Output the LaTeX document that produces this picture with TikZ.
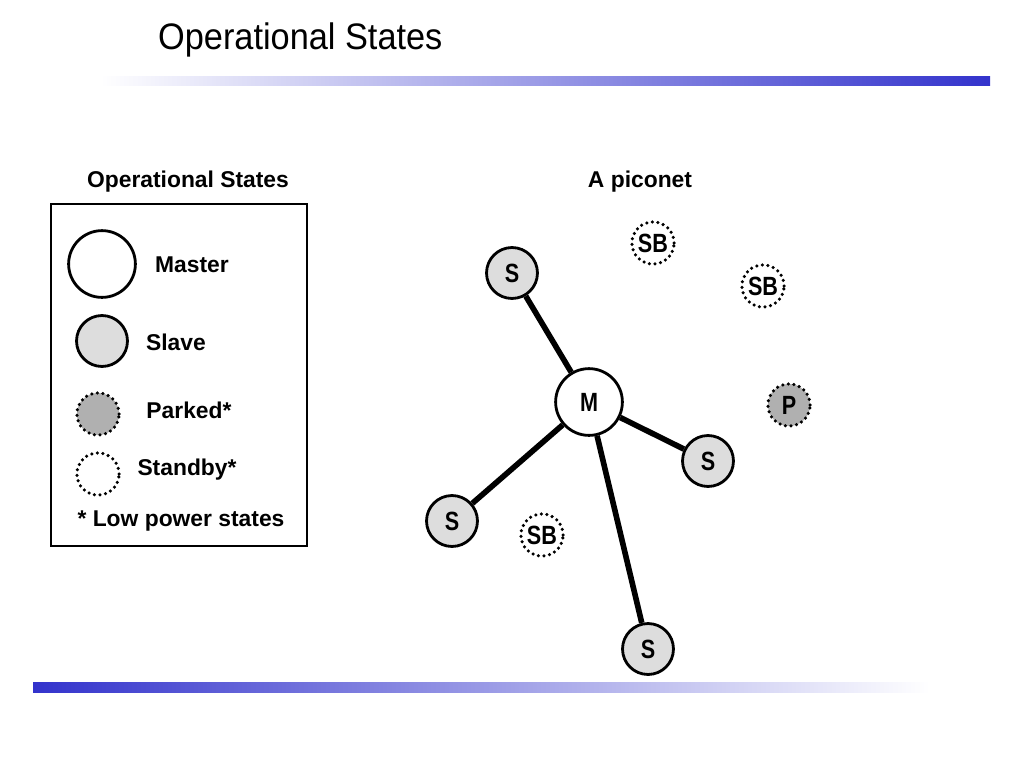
\documentclass[tikz,border=0pt]{standalone}
\usepackage{fontspec}
\setmainfont{Liberation Sans}
\usetikzlibrary{positioning}
\definecolor{barblue}{RGB}{51,51,204}
\definecolor{slavegray}{RGB}{221,221,221}
\definecolor{parkgray}{RGB}{176,176,176}
\tikzset{
  unit/.style={circle, draw, line width=1.6pt, inner sep=0pt, font=\bfseries\fontsize{15}{15}\selectfont},
  master/.style={unit, fill=white, minimum size=38pt},
  slave/.style={unit, fill=slavegray, minimum size=29pt},
  lowpower/.style={unit, line width=2pt, line cap=round, dash pattern=on 0pt off 3.2pt, minimum size=24pt},
  parked/.style={lowpower, fill=parkgray},
  standby/.style={lowpower, fill=white},
  label/.style={font=\bfseries\fontsize{13}{13}\selectfont},
  link/.style={line width=3.2pt}
}
\newcommand{\narrow}[1]{\scalebox{0.82}[1]{#1}}
\begin{document}
\begin{tikzpicture}[x=0.02cm, y=-0.02cm]
  \useasboundingbox (0, 0) rectangle (1024, 768);
  % title and bars
  \node[anchor=west, font=\fontsize{21}{21}\selectfont] (title) at (152, 40) {\scalebox{0.93}[1]{Operational States}};
  \shade[left color=white, right color=barblue] (100, 76) rectangle (990, 85);
  \shade[left color=barblue, right color=white] (33, 682) rectangle (930, 692);
  % legend
  \node[label] (legtitle) at (188, 182) {Operational States};
  \draw[line width=1.6pt] (51, 204) rectangle (307, 546);
  \node[master] (lm) at (102, 264) {};
  \node[label] at (192, 265) {Master};
  \node[slave] (ls) at (102, 341) {};
  \node[label] at (176, 342) {Slave};
  \node[parked] (lp) at (98, 414) {};
  \node[label] at (189, 410) {Parked*};
  \node[standby] (lsb) at (98, 474) {};
  \node[label] at (187, 470) {Standby*};
  \node[label] at (181, 521) {* Low power states};
  % piconet
  \node[label] (pictitle) at (640, 182) {A piconet};
  \node[master] (m) at (589, 402) {\narrow{M}};
  \node[slave] (s1) at (512, 273) {\narrow{S}};
  \node[slave] (s2) at (708, 461) {\narrow{S}};
  \node[slave] (s3) at (452, 521) {\narrow{S}};
  \node[slave] (s4) at (648, 649) {\narrow{S}};
  \node[standby] (sb1) at (653, 243) {\narrow{SB}};
  \node[standby] (sb2) at (763, 286) {\narrow{SB}};
  \node[standby] (sb3) at (542, 535) {\narrow{SB}};
  \node[parked] (p) at (789, 405) {\narrow{P}};
  \foreach \s in {s1, s2, s3, s4}
    \draw[link] (m) -- (\s);
\end{tikzpicture}
\end{document}
